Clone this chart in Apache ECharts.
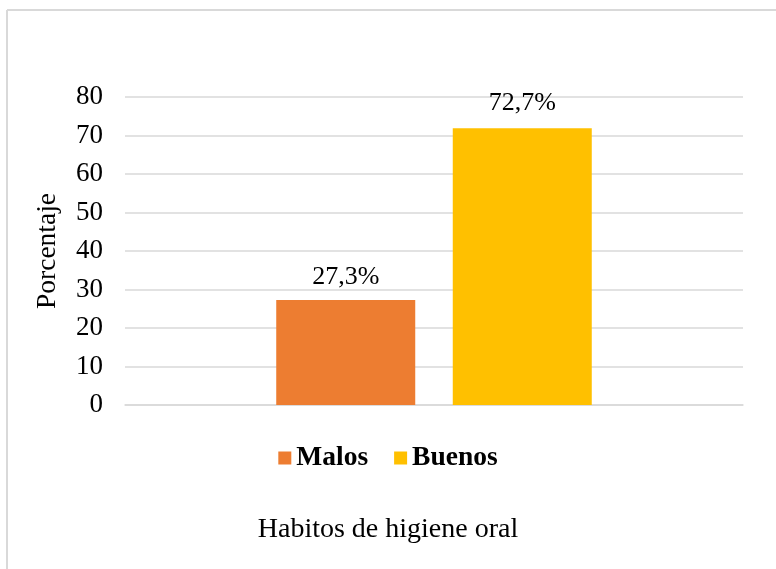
<!DOCTYPE html>
<html>
<head>
<meta charset="utf-8">
<script src="https://cdn.jsdelivr.net/npm/echarts@6/dist/echarts.min.js"></script>
<style>
html,body{margin:0;padding:0;background:#fff;}
#chart{width:776px;height:569px;}
</style>
</head>
<body>
<div id="chart"></div>
<script>
var categories = ['Habitos de higiene oral'];
var seriesNames = ['Malos', 'Buenos'];
var maloValues = [27.3];
var buenoValues = [71.9];
var barLabels = ['27,3%', '72,7%'];
var yTicks = { min: 0, max: 80, interval: 10 };
var colors = ['#ED7D31', '#FFC000'];

var FONT = '"Liberation Serif", "Times New Roman", serif';
var chart = echarts.init(document.getElementById('chart'), null, { renderer: 'canvas' });

chart.setOption({
  animation: false,
  textStyle: { fontFamily: FONT },
  graphic: [
    { type: 'line', shape: { x1: 7, y1: 10, x2: 776, y2: 10 }, style: { stroke: '#d9d9d9', lineWidth: 2 } },
    { type: 'line', shape: { x1: 7, y1: 10, x2: 7, y2: 569 }, style: { stroke: '#d9d9d9', lineWidth: 2 } }
  ],
  title: {
    text: categories[0],
    left: 'center',
    top: 511,
    textStyle: { fontFamily: FONT, fontSize: 28, fontWeight: 'normal', color: '#000' }
  },
  grid: { left: 125, right: 33, top: 97, bottom: 164, containLabel: false },
  legend: {
    data: seriesNames,
    top: 439,
    left: 'center',
    itemWidth: 13,
    itemHeight: 13,
    itemGap: 26,
    icon: 'rect',
    textStyle: { fontFamily: FONT, fontSize: 27.5, fontWeight: 'bold', color: '#000' }
  },
  xAxis: {
    type: 'category',
    data: categories,
    axisLine: { show: true, lineStyle: { color: '#d9d9d9', width: 1.5 } },
    axisTick: { show: false },
    axisLabel: { show: false }
  },
  yAxis: {
    type: 'value',
    min: yTicks.min,
    max: yTicks.max,
    interval: yTicks.interval,
    name: 'Porcentaje',
    nameLocation: 'middle',
    nameGap: 63,
    nameTextStyle: { fontFamily: FONT, fontSize: 27.5, color: '#000' },
    axisLine: { show: false },
    axisTick: { show: false },
    axisLabel: { fontFamily: FONT, fontSize: 27, color: '#000', margin: 22 },
    splitLine: { lineStyle: { color: '#d9d9d9', width: 1.5 } }
  },
  series: [
    {
      name: seriesNames[0], type: 'bar', data: maloValues, barWidth: 139, barGap: '27%',
      itemStyle: { color: colors[0] },
      label: { show: true, position: 'top', distance: 10, formatter: function () { return barLabels[0]; }, fontFamily: FONT, fontSize: 26, color: '#000' }
    },
    {
      name: seriesNames[1], type: 'bar', data: buenoValues, barWidth: 139, barGap: '27%',
      itemStyle: { color: colors[1] },
      label: { show: true, position: 'top', distance: 12, formatter: function () { return barLabels[1]; }, fontFamily: FONT, fontSize: 26, color: '#000' }
    }
  ]
});
</script>
</body>
</html>
